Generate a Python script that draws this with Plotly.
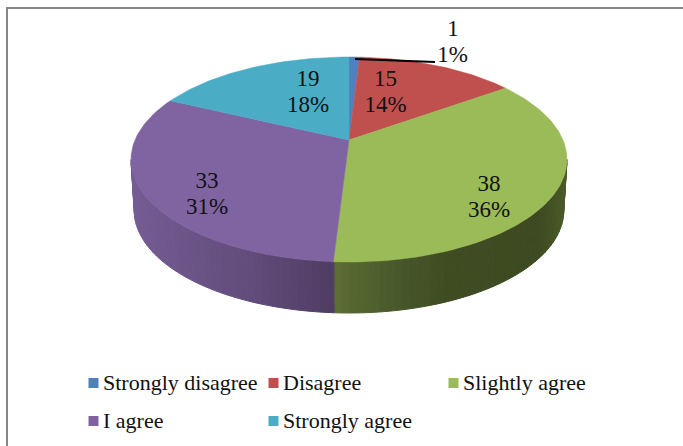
import math
import plotly.graph_objects as go

categories = ["Strongly disagree", "Disagree", "Slightly agree", "I agree", "Strongly agree"]
values = [1, 15, 38, 33, 19]
percent_labels = ["1%", "14%", "36%", "31%", "18%"]
colors = ["#4F81BD", "#C0504D", "#9BBB59", "#8064A2", "#4BACC6"]

# Drawing geometry (pixels of the 683x446 picture)
CX, CY, RX, RY = 349.0, 159.5, 218.0, 102.5
DEPTH = 51.0
TILT = 0.19
BOTTOM_SCALE = 0.985
VALUE_POS = [(453, 30), (385.5, 80), (489, 185), (207, 182.5), (308, 80)]
PERCENT_POS = [(452.5, 56), (385.5, 106.5), (489, 211), (207, 208.5), (308, 106.5)]
LEGEND_KEY_POS = [(93.5, 383), (273.5, 383), (453.5, 383), (93.5, 421), (273.5, 421)]
LEGEND_TEXT_POS = [(103, 384), (283, 384), (463, 384), (103, 422), (283, 422)]
WALL_STOPS = [(131, "#755C94"), (250, "#614C7B"), (333, "#4F3C62"),
              (334, "#5B6E33"), (400, "#47572A"), (450, "#3F4C22"), (540, "#3E4A21"), (567, "#4A5A28")]


def project(theta):
    u, v = math.sin(theta), math.cos(theta)
    d = 1 + TILT * v
    up = u * math.sqrt(1 - TILT ** 2) / d
    vp = (v + TILT) / d
    return CX + RX * up, CY - RY * vp


def hex_rgb(h):
    return tuple(int(h[i:i + 2], 16) for i in (1, 3, 5))


def wall_color(x):
    for (x0, c0), (x1, c1) in zip(WALL_STOPS, WALL_STOPS[1:]):
        if x <= x1:
            t = max(0.0, (x - x0) / (x1 - x0))
            a, b = hex_rgb(c0), hex_rgb(c1)
            return "rgb(%d,%d,%d)" % tuple(round(p + (q - p) * t) for p, q in zip(a, b))
    return WALL_STOPS[-1][1]


fig = go.Figure()
total = sum(values)
angles = [0.0]
for val in values:
    angles.append(angles[-1] + val / total * 2 * math.pi)

# Side wall: narrow strips along the front half of the rim
N = 90
for i in range(N):
    t0 = math.pi / 2 + math.pi * i / N
    t1 = math.pi / 2 + math.pi * (i + 1) / N
    x0 = CX + RX * math.sin(t0)
    x1 = CX + RX * math.sin(t1)
    y0 = CY - RY * math.cos(t0)
    y1 = CY - RY * math.cos(t1)
    bx0 = CX + RX * BOTTOM_SCALE * math.sin(t0)
    bx1 = CX + RX * BOTTOM_SCALE * math.sin(t1)
    by0 = CY + DEPTH - RY * math.cos(t0)
    by1 = CY + DEPTH - RY * math.cos(t1)
    col = wall_color((x0 + x1) / 2)
    fig.add_trace(go.Scatter(x=[x0, x1, bx1, bx0, x0], y=[y0, y1, by1, by0, y0], mode="lines",
                             fill="toself", fillcolor=col, line=dict(color=col, width=1),
                             hoverinfo="skip", showlegend=False))

# Top face wedges, from the values
ax, ay = CX, CY - RY * TILT
for k, cat in enumerate(categories):
    a0, a1 = angles[k], angles[k + 1]
    steps = max(4, int((a1 - a0) / 0.02))
    pts = [project(a0 + (a1 - a0) * j / steps) for j in range(steps + 1)]
    xs = [ax] + [p[0] for p in pts] + [ax]
    ys = [ay] + [p[1] for p in pts] + [ay]
    fig.add_trace(go.Scatter(x=xs, y=ys, mode="lines", fill="toself", fillcolor=colors[k],
                             line=dict(color=colors[k], width=0.5), name=cat,
                             hoverinfo="name", showlegend=False))

# Data labels
label_font = dict(family="Liberation Serif", size=23, color="#111111")
fig.add_trace(go.Scatter(
    x=[p[0] for p in VALUE_POS], y=[p[1] for p in VALUE_POS], mode="text",
    text=[str(v) for v in values], textfont=label_font,
    textposition="middle center", hoverinfo="skip", showlegend=False))
fig.add_trace(go.Scatter(
    x=[p[0] for p in PERCENT_POS], y=[p[1] for p in PERCENT_POS], mode="text",
    text=percent_labels, textfont=label_font,
    textposition="middle center", hoverinfo="skip", showlegend=False))

# Leader line of the first label
fig.add_shape(type="line", x0=355, y0=59, x1=435, y1=62, line=dict(color="#000000", width=2))

# Legend keys and text
fig.add_trace(go.Scatter(
    x=[p[0] for p in LEGEND_KEY_POS], y=[p[1] for p in LEGEND_KEY_POS], mode="markers",
    marker=dict(symbol="square", size=10, color=colors, line=dict(width=0)),
    hoverinfo="skip", showlegend=False))
fig.add_trace(go.Scatter(
    x=[p[0] for p in LEGEND_TEXT_POS], y=[p[1] for p in LEGEND_TEXT_POS], mode="text",
    text=categories, textposition="middle right",
    textfont=dict(family="Liberation Serif", size=22, color="#111111"),
    hoverinfo="skip", showlegend=False))

# Chart frame: only the top and left edges fall inside the picture
fig.add_shape(type="rect", x0=7, y0=8, x1=720, y1=480, line=dict(color="#868686", width=2))

fig.update_layout(
    width=683, height=446, margin=dict(l=0, r=0, t=0, b=0),
    paper_bgcolor="#FFFFFF", plot_bgcolor="#FFFFFF",
    xaxis=dict(range=[0, 683], visible=False, fixedrange=True),
    yaxis=dict(range=[446, 0], visible=False, fixedrange=True),
    showlegend=False,
)
fig.write_html("out.html", config={"displayModeBar": False},
               post_script="document.body.style.margin='0';")
